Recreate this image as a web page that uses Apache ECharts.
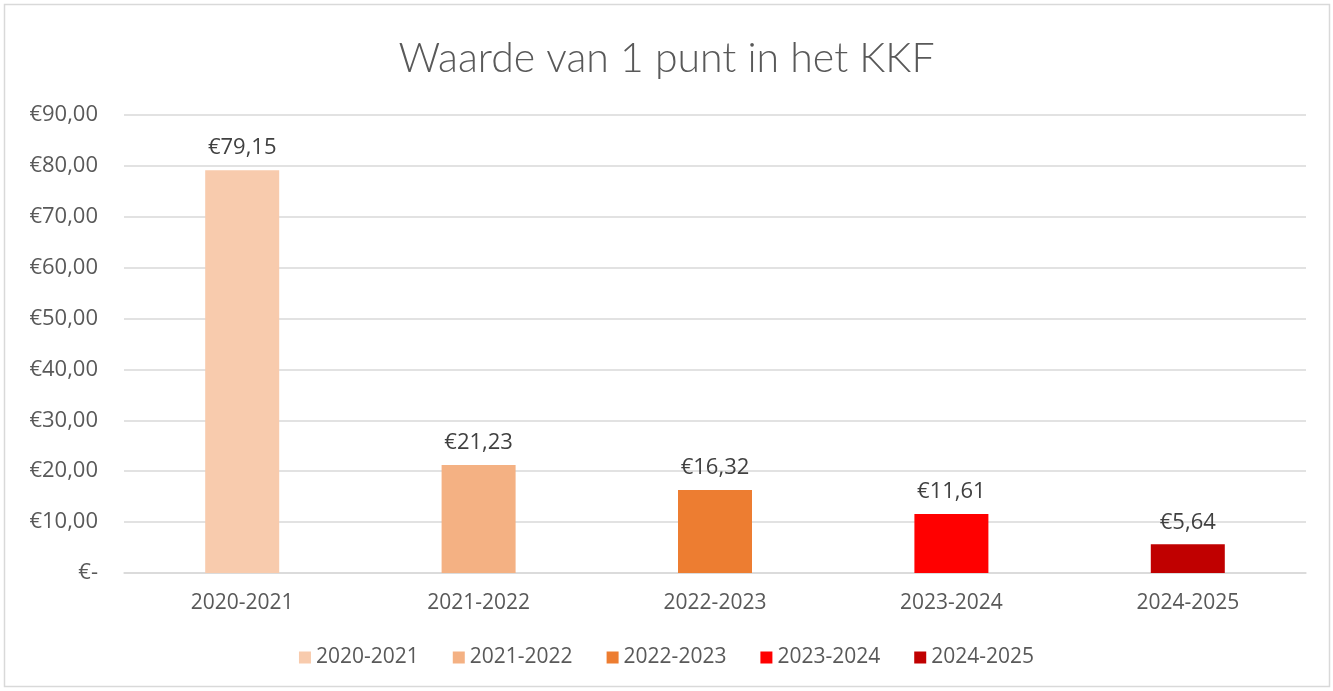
<!DOCTYPE html>
<html>
<head>
<meta charset="utf-8">
<title>Waarde van 1 punt in het KKF</title>
<script src="https://cdn.jsdelivr.net/npm/echarts@6/dist/echarts.min.js"></script>
<style>
  html, body { margin: 0; padding: 0; background: #fff; }
  #chart { width: 1333px; height: 691px; }
</style>
</head>
<body>
<div id="chart"></div>
<script>
  // data
  const categories = ['2020-2021', '2021-2022', '2022-2023', '2023-2024', '2024-2025'];
  const values = [79.15, 21.23, 16.32, 11.61, 5.64];
  const colors = ['#F8CBAD', '#F4B183', '#ED7D31', '#FF0000', '#C00000'];
  const yTicks = [0, 10, 20, 30, 40, 50, 60, 70, 80, 90];

  const euro = v => v === 0 ? '€-' : '€' + v.toFixed(2).replace('.', ',');
  const textFont = '"Open Sans", "Noto Sans", sans-serif';

  // one series per season so each gets a legend entry (like Excel's vary colours)
  const series = categories.map((name, i) => ({
    name: name,
    type: 'bar',
    stack: 'kkf',
    barWidth: 74,
    itemStyle: { color: colors[i] },
    label: {
      show: true,
      position: 'top',
      distance: 11,
      color: '#404040',
      fontSize: 22,
      fontFamily: textFont,
      formatter: p => euro(p.value)
    },
    data: categories.map((c, j) => j === i ? values[i] : '-')
  }));

  const chart = echarts.init(document.getElementById('chart'));
  chart.setOption({
    animation: false,
    title: {
      text: 'Waarde van 1 punt in het KKF',
      left: 'center',
      top: 33,
      textStyle: {
        fontFamily: 'Lato, sans-serif',
        fontWeight: 300,
        fontSize: 41,
        color: '#595959'
      }
    },
    graphic: [{
      type: 'rect',
      shape: { x: 4.5, y: 4.5, width: 1325, height: 682 },
      style: { fill: 'none', stroke: '#D9D9D9', lineWidth: 1.5 },
      silent: true
    }],
    legend: {
      bottom: 18,
      left: 'center',
      itemWidth: 12,
      itemHeight: 12,
      itemGap: 34,
      icon: 'rect',
      textStyle: { fontSize: 21, color: '#595959', fontFamily: textFont },
      data: categories
    },
    grid: {
      left: 124,
      right: 27,
      top: 115,
      bottom: 118
    },
    xAxis: {
      type: 'category',
      data: categories,
      axisLine: { lineStyle: { color: '#D9D9D9', width: 1.5 } },
      axisTick: { show: false },
      axisLabel: { color: '#595959', fontSize: 21, fontFamily: textFont, margin: 20 }
    },
    yAxis: {
      type: 'value',
      min: yTicks[0],
      max: yTicks[yTicks.length - 1],
      interval: 10,
      axisLine: { show: false },
      axisTick: { show: false },
      splitLine: { lineStyle: { color: '#D9D9D9', width: 1.5 } },
      axisLabel: {
        color: '#595959',
        fontSize: 22,
        fontFamily: textFont,
        margin: 26,
        formatter: v => euro(v)
      }
    },
    series: series
  });
</script>
</body>
</html>
